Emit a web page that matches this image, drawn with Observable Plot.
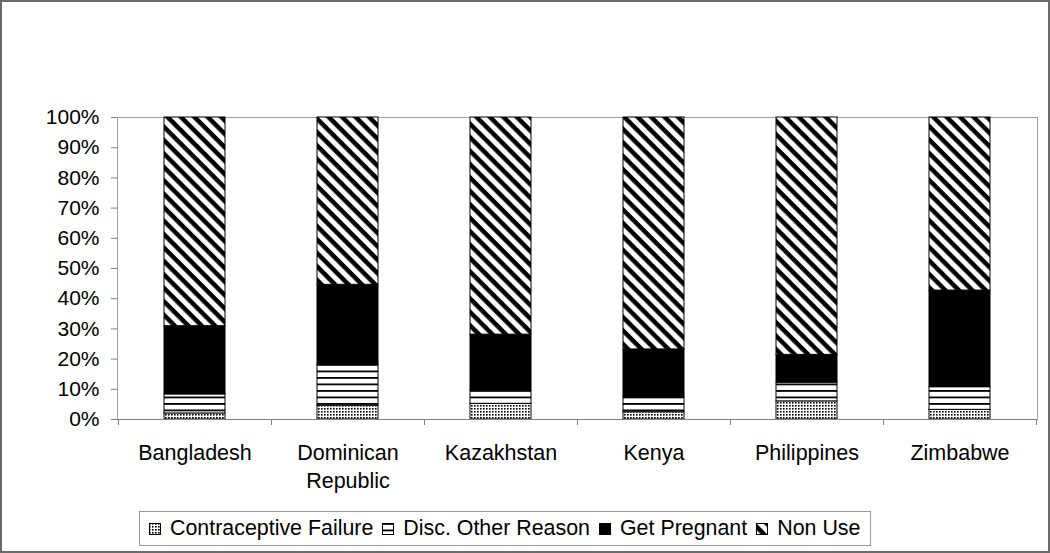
<!DOCTYPE html>
<html><head><meta charset="utf-8">
<script src="https://cdn.jsdelivr.net/npm/d3@7"></script>
<script src="https://cdn.jsdelivr.net/npm/@observablehq/plot@0.6"></script>
<style>
html,body{margin:0;padding:0;background:#fff}
#wrap{position:relative;width:1050px;height:553px;overflow:hidden;font-family:"Liberation Sans",Arial,sans-serif;background:#fff}
#chart{position:absolute;left:0;top:0}
#border{position:absolute;left:0;top:0;width:1050px;height:553px;box-sizing:border-box;border:2px solid #6b6b6b;pointer-events:none}
#legend{position:absolute;left:139px;top:511px;height:35px;box-sizing:border-box;border:1px solid #9a9a9a;display:flex;align-items:center;padding:0 10px 0 9px;font-size:21.4px;color:#000;white-space:nowrap}
.item{display:flex;align-items:center;margin-right:9px}
.item:last-child{margin-right:0}
.item svg{margin-right:9px;display:block}
</style></head><body>
<div id="wrap"><div id="chart"></div><div id="legend"></div><div id="border"></div></div>
<script>
const categories = ["Bangladesh", "Dominican Republic", "Kazakhstan", "Kenya", "Philippines", "Zimbabwe"];
const tickLabels = ["Bangladesh", "Dominican\nRepublic", "Kazakhstan", "Kenya", "Philippines", "Zimbabwe"];
const seriesNames = ["Contraceptive Failure", "Disc. Other Reason", "Get Pregnant", "Non Use"];
const contraceptiveFailure = [2.0, 4.6, 5.2, 2.4, 6.0, 3.2];
const discOtherReason = [6.3, 13.6, 4.4, 5.0, 6.2, 7.5];
const getPregnant = [22.6, 26.4, 18.5, 15.8, 9.2, 32.0];
const nonUse = [69.1, 55.4, 71.9, 76.8, 78.6, 57.3];
const yTicks = [0, 10, 20, 30, 40, 50, 60, 70, 80, 90, 100];
const seriesFills = ["url(#pat-dots)", "url(#pat-hlines)", "#000000", "url(#pat-diag)"];

const seriesValues = [contraceptiveFailure, discOtherReason, getPregnant, nonUse];
const data = [];
categories.forEach((c, i) => {
  seriesNames.forEach((s, j) => data.push({country: c, series: s, value: seriesValues[j][i]}));
});

function categoryBoundaryTicks(index, scales, values, dims) {
  const x = scales.x;
  let step = typeof x.step === "function" ? x.step() : x.step;
  let bw = typeof x.bandwidth === "function" ? x.bandwidth() : x.bandwidth;
  const inner = dims.width - dims.marginLeft - dims.marginRight;
  if (!(step > 0)) step = inner / categories.length;
  if (!(bw >= 0)) bw = 0;
  const y0 = dims.height - dims.marginBottom;
  const g = d3.create("svg:g").attr("stroke", "#808080").attr("stroke-width", 1);
  const edges = categories.map(c => x(c) + bw / 2 - step / 2);
  edges.push(x(categories[categories.length - 1]) + bw / 2 + step / 2);
  for (const e of edges) {
    const xe = Math.round(e) + 0.5;
    g.append("line").attr("x1", xe).attr("x2", xe).attr("y1", y0).attr("y2", y0 + 6);
  }
  return g.node();
}

const svg = Plot.plot({
  width: 1050,
  height: 500,
  marginLeft: 117,
  marginRight: 13,
  marginTop: 117,
  marginBottom: 81,
  style: {fontFamily: "'Liberation Sans', Arial, sans-serif", fontSize: "21px", background: "transparent", color: "#000"},
  x: {domain: categories, paddingInner: 0.6, paddingOuter: 0.3},
  y: {domain: [0, 100]},
  color: {type: "ordinal", domain: seriesNames, range: seriesFills},
  marks: [
    Plot.frame({stroke: "#a0a0a0"}),
    Plot.barY(data, {x: "country", y: "value", fill: "series", stroke: "#000", strokeWidth: 1}),
    Plot.ruleY([0], {stroke: "#808080"}),
    Plot.axisY({ticks: yTicks, tickFormat: d => d + "%", tickSize: 6, tickPadding: 12, fontSize: 21, stroke: "#808080", fill: "#000", label: null}),
    Plot.axisX({tickSize: 0, tickPadding: 21, tickFormat: d => tickLabels[categories.indexOf(d)], fontSize: 21.5, lineHeight: 1.28, fill: "#000", label: null}),
    categoryBoundaryTicks
  ]
});

// patterns
const defs = d3.select(svg).insert("defs", ":first-child");
const pd = defs.append("pattern").attr("id", "pat-dots").attr("patternUnits", "userSpaceOnUse").attr("width", 3).attr("height", 3);
pd.append("rect").attr("width", 3).attr("height", 3).attr("fill", "#fff");
pd.append("rect").attr("width", 1.6).attr("height", 1.6).attr("fill", "#000");
const ph = defs.append("pattern").attr("id", "pat-hlines").attr("patternUnits", "userSpaceOnUse").attr("width", 8).attr("height", 6.5);
ph.append("rect").attr("width", 8).attr("height", 6.5).attr("fill", "#fff");
ph.append("rect").attr("width", 8).attr("height", 1.8).attr("fill", "#000");
const pg = defs.append("pattern").attr("id", "pat-diag").attr("patternUnits", "userSpaceOnUse").attr("width", 9.5).attr("height", 9.5).attr("patternTransform", "rotate(45)");
pg.append("rect").attr("width", 9.5).attr("height", 9.5).attr("fill", "#fff");
pg.append("rect").attr("width", 9.5).attr("height", 4.5).attr("fill", "#000");

document.getElementById("chart").appendChild(svg);

// legend
const legend = d3.select("#legend");
seriesNames.forEach((s, j) => {
  const item = legend.append("div").attr("class", "item");
  const sw = item.append("svg").attr("width", 12).attr("height", 12);
  sw.append("rect").attr("x", 0.5).attr("y", 0.5).attr("width", 11).attr("height", 11)
    .attr("fill", seriesFills[j]).attr("stroke", "#000").attr("stroke-width", 1);
  item.append("span").text(s);
});
</script>
</body></html>
